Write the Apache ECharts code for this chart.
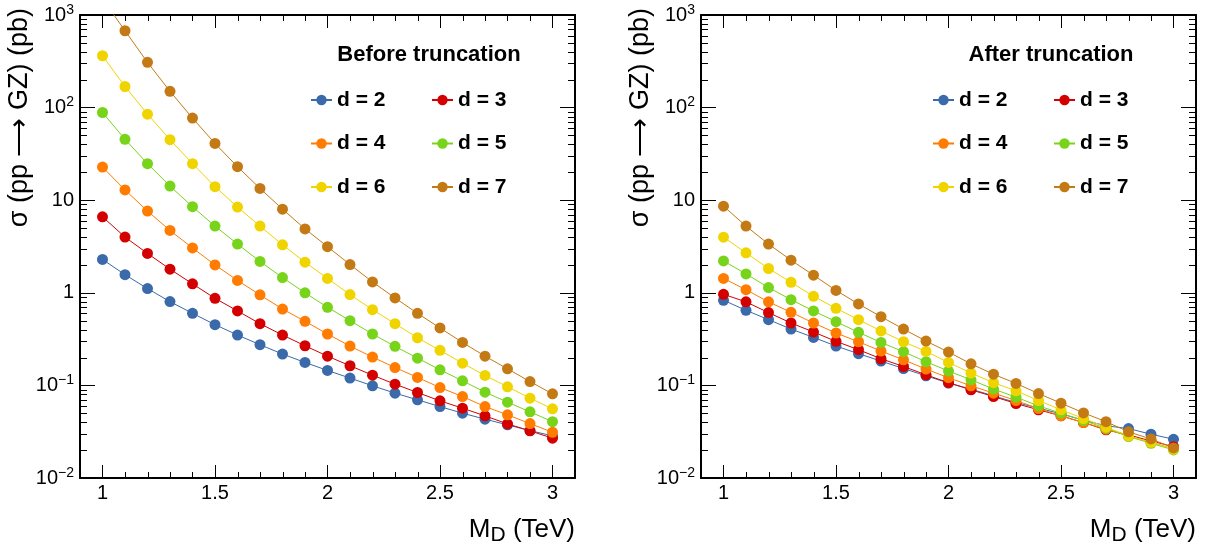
<!DOCTYPE html>
<html>
<head>
<meta charset="utf-8">
<script src="https://cdn.jsdelivr.net/npm/echarts@6/dist/echarts.min.js"></script>
<style>
html, body { margin: 0; padding: 0; background: #fff; }
#chart { width: 1215px; height: 551px; }
</style>
</head>
<body>
<div id="chart"></div>
<script>
// M_D values (TeV)
const massPoints = [1.0, 1.1, 1.2, 1.3, 1.4, 1.5, 1.6, 1.7, 1.8, 1.9, 2.0,
  2.1, 2.2, 2.3, 2.4, 2.5, 2.6, 2.7, 2.8, 2.9, 3.0];
const dimNames = ['d = 2', 'd = 3', 'd = 4', 'd = 5', 'd = 6', 'd = 7'];
const dimColors = ['#3a6aaa', '#d40000', '#ff7c00', '#78d41a', '#f0d400', '#c47a14'];

// cross sections (pb), before truncation
const beforeD2 = [2.29, 1.57, 1.11, 0.803, 0.600, 0.453, 0.350, 0.275, 0.218, 0.177, 0.145,
  0.120, 0.099, 0.0825, 0.0698, 0.0591, 0.0501, 0.0432, 0.0375, 0.0325, 0.0285];
const beforeD3 = [6.62, 4.0, 2.66, 1.80, 1.25, 0.871, 0.637, 0.464, 0.350, 0.268, 0.207,
  0.163, 0.129, 0.103, 0.0838, 0.0681, 0.0567, 0.0469, 0.0384, 0.0323, 0.0269];
const beforeD4 = [22.8, 12.9, 7.63, 4.71, 3.05, 2.0, 1.36, 0.95, 0.668, 0.492, 0.359,
  0.266, 0.202, 0.156, 0.122, 0.0948, 0.0758, 0.0591, 0.0481, 0.0387, 0.0312];
const beforeD5 = [88.5, 45.5, 24.8, 14.2, 8.5, 5.25, 3.36, 2.18, 1.46, 1.0, 0.697,
  0.500, 0.359, 0.264, 0.197, 0.1475, 0.112, 0.0846, 0.0659, 0.0518, 0.0406];
const beforeD6 = [363, 169, 85, 45, 24.8, 14.0, 8.43, 5.25, 3.3, 2.14, 1.43,
  0.957, 0.658, 0.464, 0.327, 0.239, 0.174, 0.128, 0.0966, 0.0728, 0.0558];
const beforeD7 = [1500, 676, 308, 150, 77, 41, 23, 13.4, 8.0, 4.9, 3.15,
  2.02, 1.31, 0.88, 0.60, 0.417, 0.291, 0.207, 0.151, 0.110, 0.081];

// cross sections (pb), after truncation
const afterD2 = [0.830, 0.647, 0.513, 0.406, 0.330, 0.266, 0.220, 0.183, 0.152, 0.127, 0.106,
  0.0912, 0.0771, 0.0653, 0.0568, 0.0493, 0.0421, 0.0366, 0.0342, 0.0297, 0.0262];
const afterD3 = [0.964, 0.798, 0.611, 0.472, 0.377, 0.299, 0.243, 0.194, 0.160, 0.130, 0.107,
  0.0895, 0.0758, 0.0637, 0.0545, 0.0469, 0.0397, 0.0331, 0.0292, 0.0251, 0.0218];
const afterD4 = [1.43, 1.08, 0.798, 0.616, 0.472, 0.368, 0.296, 0.235, 0.189, 0.150, 0.121,
  0.099, 0.0825, 0.0687, 0.0562, 0.0469, 0.0397, 0.0337, 0.0285, 0.0243, 0.0206];
const afterD5 = [2.21, 1.60, 1.14, 0.843, 0.637, 0.488, 0.374, 0.291, 0.231, 0.180, 0.143,
  0.115, 0.0912, 0.0747, 0.0601, 0.0501, 0.0417, 0.0345, 0.0280, 0.0237, 0.0201];
const afterD6 = [3.99, 2.70, 1.83, 1.30, 0.917, 0.680, 0.513, 0.387, 0.296, 0.233, 0.177,
  0.136, 0.107, 0.0874, 0.0687, 0.0545, 0.0439, 0.0354, 0.0285, 0.0243, 0.0205];
const afterD7 = [8.63, 5.25, 3.36, 2.25, 1.55, 1.06, 0.758, 0.552, 0.406, 0.301, 0.229,
  0.171, 0.132, 0.105, 0.0817, 0.0643, 0.0505, 0.0406, 0.0315, 0.0264, 0.0211];

// axis ticks
const majorX = [1, 1.5, 2, 2.5, 3];
const minorX = [1.1, 1.2, 1.3, 1.4, 1.6, 1.7, 1.8, 1.9, 2.1, 2.2, 2.3, 2.4, 2.6, 2.7, 2.8, 2.9];
const minorY = [];
for (let k = -2; k <= 2; k++) {
  for (let m = 2; m <= 9; m++) minorY.push(m * Math.pow(10, k));
}

const beforeSets = [beforeD2, beforeD3, beforeD4, beforeD5, beforeD6, beforeD7];
const afterSets = [afterD2, afterD3, afterD4, afterD5, afterD6, afterD7];

const FONT = '"Liberation Sans", Arial, Helvetica, sans-serif';

const logLabel = (v) => {
  const e = Math.round(Math.log10(v));
  if (e === 0) return '{n|1}';
  if (e === 1) return '{n|10}';
  return '{n|10}{s|' + (e < 0 ? '\u2212' + (-e) : e) + '}';
};

const bottomX = (gi) => ({
  type: 'value', gridIndex: gi, min: 0.9, max: 3.1, position: 'bottom',
  axisLine: { onZero: false, lineStyle: { color: '#000', width: 2 } },
  axisTick: { inside: true, length: 13, customValues: majorX, lineStyle: { color: '#000', width: 1 } },
  axisLabel: { customValues: majorX, margin: 5, fontSize: 20, color: '#000', fontFamily: FONT },
  splitLine: { show: false },
});
const topX = (gi) => ({
  type: 'value', gridIndex: gi, min: 0.9, max: 3.1, position: 'top',
  axisLine: { onZero: false, lineStyle: { color: '#000', width: 2 } },
  axisTick: { inside: true, length: 13, customValues: majorX, lineStyle: { color: '#000', width: 1 } },
  axisLabel: { show: false },
  splitLine: { show: false },
});
const leftY = (gi) => ({
  type: 'log', logBase: 10, gridIndex: gi, min: 0.01, max: 1000, position: 'left',
  axisLine: { show: true, onZero: false, lineStyle: { color: '#000', width: 2 } },
  axisTick: { show: true, inside: true, length: 15, lineStyle: { color: '#000', width: 1 } },
  axisLabel: {
    margin: 6, formatter: logLabel,
    rich: {
      n: { fontSize: 20, lineHeight: 24, color: '#000', fontFamily: FONT },
      s: { fontSize: 14, verticalAlign: 'top', color: '#000', fontFamily: FONT },
    },
  },
  splitLine: { show: false },
});
const rightY = (gi) => ({
  type: 'log', logBase: 10, gridIndex: gi, min: 0.01, max: 1000, position: 'right',
  axisLine: { show: true, onZero: false, lineStyle: { color: '#000', width: 2 } },
  axisTick: { show: true, inside: true, length: 15, lineStyle: { color: '#000', width: 1 } },
  axisLabel: { show: false },
  splitLine: { show: false },
});

// minor ticks on all four sides, placed by the axes' own scales
const minorTicks = (gi) => ({
  type: 'custom', xAxisIndex: gi * 2, yAxisIndex: gi * 2, silent: true, z: 1,
  data: minorY.map((v) => [1, v, 0]).concat(minorX.map((v) => [v, 1, 1])),
  renderItem: (params, api) => {
    const cs = params.coordSys;
    const st = { stroke: '#000', lineWidth: 1 };
    if (api.value(2) === 0) {
      const y = Math.round(api.coord([1, api.value(1)])[1]) + 0.5;
      return { type: 'group', children: [
        { type: 'line', shape: { x1: cs.x, y1: y, x2: cs.x + 7, y2: y }, style: st },
        { type: 'line', shape: { x1: cs.x + cs.width - 7, y1: y, x2: cs.x + cs.width, y2: y }, style: st },
      ] };
    }
    const x = Math.round(api.coord([api.value(0), 1])[0]) + 0.5;
    return { type: 'group', children: [
      { type: 'line', shape: { x1: x, y1: cs.y + cs.height - 6, x2: x, y2: cs.y + cs.height }, style: st },
      { type: 'line', shape: { x1: x, y1: cs.y, x2: x, y2: cs.y + 6 }, style: st },
    ] };
  },
});

const lineSeries = (gi, sets) => sets.map((arr, i) => ({
  name: dimNames[i], type: 'line', xAxisIndex: gi * 2, yAxisIndex: gi * 2,
  data: massPoints.map((m, j) => [m, arr[j]]),
  symbol: 'circle', symbolSize: 11,
  itemStyle: { color: dimColors[i] },
  lineStyle: { color: dimColors[i], width: 1 },
  z: 3 + i,
}));

const legendBox = (left, names) => ({
  left: left, top: 89, orient: 'vertical', data: names,
  itemWidth: 21, itemHeight: 13, itemGap: 21.5, padding: 0,
  textStyle: { fontSize: 21, fontWeight: 'bold', color: '#000', fontFamily: FONT, lineHeight: 22 },
});

// x title "M_D (TeV)" built from three pieces, right-aligned at the frame edge
const measure = (() => {
  const ctx = document.createElement('canvas').getContext('2d');
  return (text, font) => { ctx.font = font; return ctx.measureText(text).width; };
})();
const TITLE_FONT = '26px ' + FONT;
const SUB_FONT = '21px ' + FONT;
const xTitle = (right) => {
  const wUnit = measure(' (TeV)', TITLE_FONT);
  const wSub = measure('D', SUB_FONT);
  const piece = (x, y, text, font) => ({
    type: 'text', x: x, y: y,
    style: { text: text, font: font, fill: '#000', align: 'right', verticalAlign: 'top',
      textAlign: 'right', textVerticalAlign: 'top' },
  });
  return [
    piece(right, 517, ' (TeV)', TITLE_FONT),
    piece(right - wUnit, 525, 'D', SUB_FONT),
    piece(right - wUnit - wSub, 517, 'M', TITLE_FONT),
  ];
};
const yTitle = (x) => ({
  type: 'text', x: x, y: 8, rotation: Math.PI / 2,
  style: {
    text: '\u03c3 (pp \u27f6 GZ) (pb)', font: '27px ' + FONT, fill: '#000',
    align: 'right', verticalAlign: 'middle', textAlign: 'right', textVerticalAlign: 'middle',
  },
});
const panelTitle = (x, text) => ({
  type: 'text', x: x, y: 55,
  style: {
    text: text, font: 'bold 22px ' + FONT, fill: '#000',
    align: 'center', verticalAlign: 'middle', textAlign: 'center', textVerticalAlign: 'middle',
  },
});

const chart = echarts.init(document.getElementById('chart'));
chart.setOption({
  animation: false,
  backgroundColor: '#fff',
  grid: [
    { left: 80, top: 15, width: 495, height: 463 },
    { left: 701, top: 15, width: 495, height: 463 },
  ],
  xAxis: [bottomX(0), topX(0), bottomX(1), topX(1)],
  yAxis: [leftY(0), rightY(0), leftY(1), rightY(1)],
  legend: [
    legendBox(310, ['d = 2', 'd = 4', 'd = 6']),
    legendBox(431, ['d = 3', 'd = 5', 'd = 7']),
    legendBox(932, ['d = 2', 'd = 4', 'd = 6']),
    legendBox(1053, ['d = 3', 'd = 5', 'd = 7']),
  ],
  graphic: [
    panelTitle(429, 'Before truncation'),
    panelTitle(1051, 'After truncation'),
    ...xTitle(575), ...xTitle(1196),
    yTitle(20), yTitle(641),
  ],
  series: [
    minorTicks(0), minorTicks(1),
    ...lineSeries(0, beforeSets),
    ...lineSeries(1, afterSets),
  ],
});
</script>
</body>
</html>
